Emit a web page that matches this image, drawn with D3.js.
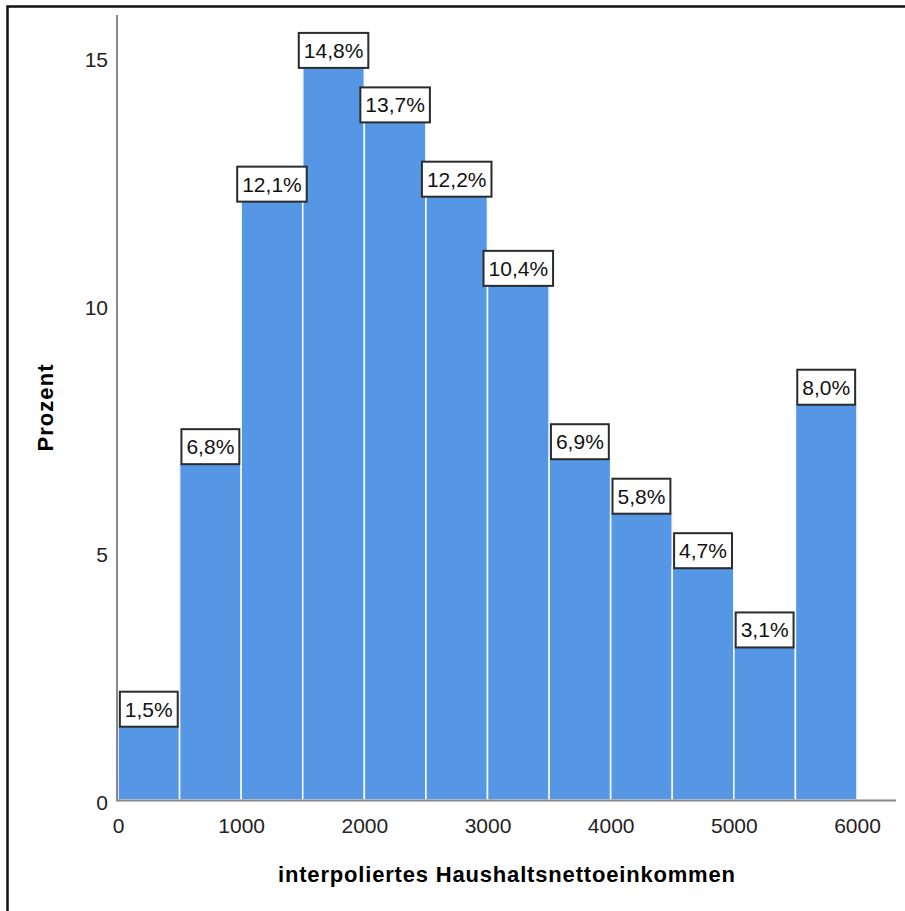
<!DOCTYPE html>
<html>
<head>
<meta charset="utf-8">
<script src="https://cdn.jsdelivr.net/npm/d3@7"></script>
<style>
  html, body { margin: 0; padding: 0; background: #fff; }
  svg { display: block; }
</style>
</head>
<body>
<script>
// ---- data ----
const binStarts = [0, 500, 1000, 1500, 2000, 2500, 3000, 3500, 4000, 4500, 5000, 5500];
const binWidth = 500;
const percents = [1.5, 6.8, 12.1, 14.8, 13.7, 12.2, 10.4, 6.9, 5.8, 4.7, 3.1, 8.0];
const xTicks = [0, 1000, 2000, 3000, 4000, 5000, 6000];
const yTicks = [0, 5, 10, 15];
const xTitle = "interpoliertes Haushaltsnettoeinkommen";
const yTitle = "Prozent";

const W = 905, H = 911;
const svg = d3.select("body").append("svg").attr("width", W).attr("height", H);

// frame
svg.append("path")
  .attr("d", `M7.5,${H} L7.5,6.5 L${W},6.5`)
  .attr("fill", "none").attr("stroke", "#111").attr("stroke-width", 2.5);

const x = d3.scaleLinear().domain([0, 6000]).range([118, 857]);
const y = d3.scaleLinear().domain([0, 15]).range([800, 57]);

// bars
svg.append("g").selectAll("rect").data(binStarts).join("rect")
  .attr("x", d => x(d))
  .attr("width", d => x(d + binWidth) - x(d))
  .attr("y", (d, i) => y(percents[i]))
  .attr("height", (d, i) => y(0) - y(percents[i]))
  .attr("fill", "#5596e5")
  .attr("stroke", "#f4f8fe")
  .attr("stroke-width", 1.6);

// axes lines
svg.append("line").attr("x1", 117).attr("x2", 117).attr("y1", 15).attr("y2", 801)
  .attr("stroke", "#888").attr("stroke-width", 2);
svg.append("line").attr("x1", 116).attr("x2", 896).attr("y1", 800.5).attr("y2", 800.5)
  .attr("stroke", "#888").attr("stroke-width", 2);

// y ticks labels
const yAxis = d3.axisLeft(y).tickValues(yTicks).tickSize(0).tickPadding(0).tickFormat(d3.format("d"));
const gy = svg.append("g").attr("transform", "translate(108,0)").call(yAxis);
gy.select(".domain").remove();
gy.selectAll("text").attr("font-family", "Liberation Sans, Arial, sans-serif")
  .attr("font-size", 21).attr("fill", "#222").attr("dy", "0.45em");

// x ticks labels
const xAxis = d3.axisBottom(x).tickValues(xTicks).tickSize(0).tickPadding(0).tickFormat(d3.format("d"));
const gx = svg.append("g").attr("transform", "translate(0,833)").call(xAxis);
gx.select(".domain").remove();
gx.selectAll("text").attr("font-family", "Liberation Sans, Arial, sans-serif")
  .attr("font-size", 21).attr("fill", "#222").attr("dy", 0);

// value labels
const fmt = v => v.toFixed(1).replace(".", ",") + "%";
const lab = svg.append("g").selectAll("g").data(binStarts).join("g")
  .attr("transform", (d, i) => `translate(${x(d + binWidth / 2)},${y(percents[i])})`);
lab.each(function(d, i) {
  const g = d3.select(this);
  const rect = g.append("rect");
  const t = g.append("text").text(fmt(percents[i]))
    .attr("font-family", "Liberation Sans, Arial, sans-serif")
    .attr("font-size", 21).attr("fill", "#111")
    .attr("text-anchor", "middle").attr("y", -9);
  const w = t.node().getComputedTextLength() + 10;
  rect.attr("x", -w / 2).attr("y", -34).attr("width", w).attr("height", 35)
    .attr("fill", "#fff").attr("stroke", "#2b2b2b").attr("stroke-width", 2);
});

// titles
svg.append("text").attr("x", 506.5).attr("y", 882)
  .attr("text-anchor", "middle")
  .attr("font-family", "Liberation Sans, Arial, sans-serif")
  .attr("font-weight", "bold").attr("font-size", 22).attr("fill", "#000")
  .attr("textLength", 457).attr("lengthAdjust", "spacing")
  .text(xTitle);

svg.append("text").attr("transform", "translate(53,408) rotate(-90)")
  .attr("text-anchor", "middle")
  .attr("font-family", "Liberation Sans, Arial, sans-serif")
  .attr("font-weight", "bold").attr("font-size", 22).attr("fill", "#000")
  .attr("textLength", 87).attr("lengthAdjust", "spacing")
  .text(yTitle);
</script>
</body>
</html>
